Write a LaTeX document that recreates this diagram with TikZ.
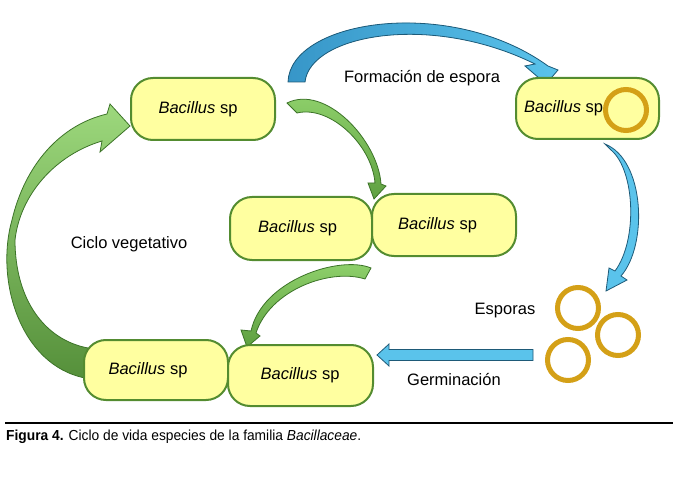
\documentclass[tikz,border=0pt]{standalone}
\usepackage{fontspec}
\setmainfont{Liberation Sans}
\newfontfamily\capfont{Liberation Sans}[FakeStretch=0.95]
\usetikzlibrary{positioning}
\pgfdeclarelayer{background}
\pgfsetlayers{background,main}
\definecolor{cellfill}{RGB}{255,255,160}
\definecolor{celldraw}{RGB}{84,140,48}
\definecolor{sporegold}{RGB}{212,160,23}
\definecolor{arrowblue}{RGB}{90,195,235}
\definecolor{arrowblueD}{RGB}{30,90,120}
\definecolor{arrowblueT}{RGB}{55,150,200}
\definecolor{greenL}{RGB}{146,212,110}
\definecolor{greenD}{RGB}{95,160,65}
\definecolor{greenB}{RGB}{60,115,40}
\newcommand{\bsp}[1]{\textit{Bacillus} sp\hspace*{#1bp}}

\begin{document}
\begin{tikzpicture}[x=1bp, y=-1bp,
    every node/.append style={font=\fontsize{16.5bp}{19bp}\selectfont},
    cell/.style={draw=celldraw, line width=2bp, fill=cellfill, rounded corners=22bp, minimum width=144bp, minimum height=62bp, inner sep=0pt},
    spore/.style={draw=sporegold, line width=5bp, circle, minimum size=41bp, inner sep=0pt},
    bluearrow/.style={draw=arrowblueD, line width=0.8bp, fill=arrowblue},
    greenarrow/.style={draw=greenB, line width=0.8bp, top color=greenL, bottom color=greenD},
    tag/.style={inner sep=0pt, align=center},
]
\useasboundingbox (0,0) rectangle (679,477);

% celulas
\node[cell] (b1) at (203,109) {\bsp{10}};
\node[cell, minimum width=143bp, minimum height=61bp] (b2) at (587.5,108.5) {};
\node[tag, anchor=west] (b2txt) at (524,108) {\textit{Bacillus} sp};
\node[spore, fill=cellfill] (s0) at (626,110) {};
\node[cell, minimum width=142bp, minimum height=63bp] (b3) at (301,228.5) {\bsp{7}};
\node[cell] (b4) at (444,225) {\bsp{13}};
\node[cell, minimum height=60bp] (b5) at (156,370) {\bsp{16}};
\node[cell, minimum width=145bp, minimum height=61bp] (b6) at (300.5,375.5) {\bsp{1}};

% esporas
\node[spore] (s1) at (578,308) {};
\node[spore] (s2) at (618,335) {};
\node[spore] (s3) at (568,360) {};

% textos
\node[tag] (formacion) at (422,78) {Formación de espora};
\node[tag] (ciclo) at (129,244) {Ciclo vegetativo};
\node[tag] (esporas) at (505,311) {Esporas};
\node[tag] (germ) at (454,380) {Germinación};

% puntos de las flechas
\coordinate (form-tail) at (288,82);
\coordinate (form-tip) at (546,84);
\coordinate (drop-tail) at (605,144);
\coordinate (drop-tip) at (606,291);
\coordinate (germ-tail) at (533,355);
\coordinate (germ-tip) at (377,355);
\coordinate (div-tail) at (287,103);
\coordinate (div-tip) at (374,199);
\coordinate (back-tail) at (371,268);
\coordinate (back-tip) at (247,347);
\coordinate (veg-tail) at (85,378);
\coordinate (veg-tip) at (130,126);

\begin{pgfonlayer}{background}
% formacion de espora
\draw[bluearrow, left color=arrowblueT, right color=arrowblue] (form-tail) .. controls (290,20) and (450,-5) .. (548,66)
    -- (558,70) -- (form-tip) -- (525,66) -- (535,64)
    .. controls (430,12) and (310,35) .. (305,82) -- cycle;
% liberacion de esporas
\draw[bluearrow] (drop-tail) .. controls (645,160) and (648,245) .. (621,276)
    -- (627,280) -- (drop-tip) -- (609,268) -- (615,271)
    .. controls (638,240) and (635,170) .. (611,150) -- cycle;
% germinacion
\draw[bluearrow] (germ-tail) ++(0,-5.5) -- (389,349.5) -- (389,344) -- (germ-tip)
    -- (389,366) -- (389,360.5) -- (533,360.5) -- cycle;
% division
\draw[greenarrow] (div-tail) .. controls (325,84) and (378,140) .. (381,184)
    -- (386,186) -- (div-tip) -- (368,183) -- (375,183)
    .. controls (372,145) and (330,105) .. (297,113) -- cycle;
\draw[greenarrow] (back-tail) .. controls (340,255) and (262,280) .. (251,331)
    -- (241,330) -- (back-tip) -- (260,336) -- (256,333)
    .. controls (270,290) and (330,268) .. (365,279) -- cycle;
% ciclo vegetativo
\draw[greenarrow, top color=greenL!90!white, bottom color=greenD!90!black] (veg-tail) .. controls (20,365) and (-5,280) .. (12,220)
    .. controls (25,165) and (60,125) .. (107,114)
    -- (110,104) -- (veg-tip) -- (100,152) -- (102,141)
    .. controls (55,155) and (20,195) .. (15,240)
    .. controls (15,300) and (45,340) .. (88,348) -- cycle;
\end{pgfonlayer}

% pie de figura
\draw[line width=1.2bp] (5,423) -- (673,423);
\node[anchor=west, inner sep=0pt, font=\capfont\fontsize{14.5bp}{17bp}\selectfont] (caption) at (6,437)
    {\textbf{Figura 4.} Ciclo de vida especies de la familia \textit{Bacillaceae}.};
\end{tikzpicture}
\end{document}
